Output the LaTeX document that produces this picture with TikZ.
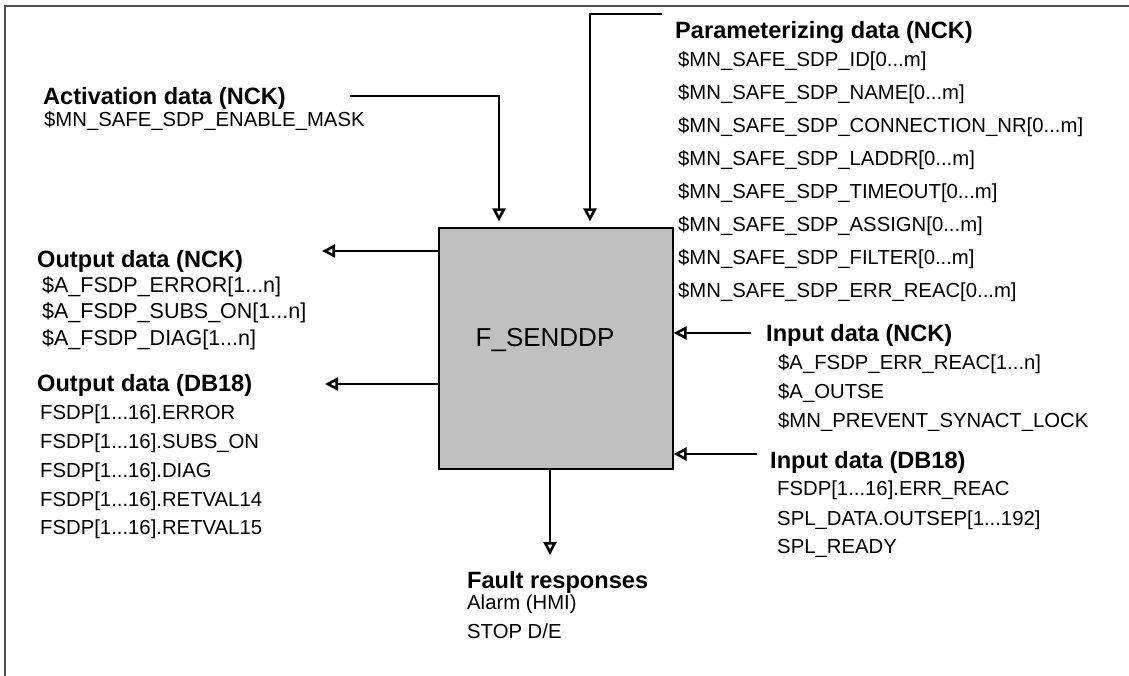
\documentclass[tikz,border=0pt]{standalone}
\usepackage{fontspec}
\setmainfont{Liberation Sans}
\usepackage{tikz}
\usetikzlibrary{arrows.meta}
\definecolor{boxgray}{RGB}{192,192,192}
\definecolor{framegray}{RGB}{80,80,80}
\tikzset{
  head/.style={anchor=base west, inner sep=0pt, font=\bfseries\fontsize{23.6}{27}\selectfont},
  item/.style={anchor=base west, inner sep=0pt, font=\fontsize{20.3}{24}\selectfont},
  flow/.style={line width=1.3pt, -{Triangle[open, length=13pt, width=13pt, line width=2.6pt]}},
}
\begin{document}
\begin{tikzpicture}[x=1pt, y=-1pt]
      \useasboundingbox (0,0) rectangle (1129,676);
      \draw[framegray, line width=2pt] (1129,6) -- (5,6) -- (5,676);
      % function block
      \node[draw, fill=boxgray, line width=1.2pt, minimum width=234pt, minimum height=241pt, inner sep=0pt] (box) at (556,348.5) {};
      \node[anchor=base, inner sep=0pt, font=\fontsize{26}{30}\selectfont] (boxname) at (545,346.7) {F\_SENDDP};
      % activation data
      \node[head] (acthead) at (43,105) {Activation data (NCK)};
      \node[item] (act1) at (44,127) {\$MN\_SAFE\_SDP\_ENABLE\_MASK};
      \coordinate (actline) at (350,96);
      \draw[flow, shorten >=6pt] (actline) -| ([xshift=-57pt]box.north);
      % parameterizing data
      \node[head] (parhead) at (675,39) {Parameterizing data (NCK)};
      \node[item] (par1) at (678,67) {\$MN\_SAFE\_SDP\_ID[0...m]};
      \node[item] (par2) at (678,100) {\$MN\_SAFE\_SDP\_NAME[0...m]};
      \node[item] (par3) at (678,133) {\$MN\_SAFE\_SDP\_CONNECTION\_NR[0...m]};
      \node[item] (par4) at (678,166) {\$MN\_SAFE\_SDP\_LADDR[0...m]};
      \node[item] (par5) at (678,199) {\$MN\_SAFE\_SDP\_TIMEOUT[0...m]};
      \node[item] (par6) at (678,232) {\$MN\_SAFE\_SDP\_ASSIGN[0...m]};
      \node[item] (par7) at (678,265) {\$MN\_SAFE\_SDP\_FILTER[0...m]};
      \node[item] (par8) at (678,298) {\$MN\_SAFE\_SDP\_ERR\_REAC[0...m]};
      \coordinate (parline) at (662,14);
      \draw[flow, shorten >=6pt] (parline) -| ([xshift=34pt]box.north);
      % output data (NCK)
      \node[head] (outnckhead) at (37,268) {Output data (NCK)};
      \node[item, font=\fontsize{21.5}{24}\selectfont] (outnck1) at (42,292) {\$A\_FSDP\_ERROR[1...n]};
      \node[item, font=\fontsize{21.5}{24}\selectfont] (outnck2) at (42,318.5) {\$A\_FSDP\_SUBS\_ON[1...n]};
      \node[item, font=\fontsize{21.5}{24}\selectfont] (outnck3) at (42,345) {\$A\_FSDP\_DIAG[1...n]};
      \coordinate (outnck) at (322,251);
      \draw[flow] (box.west |- outnck) -- (outnck);
      % output data (DB18)
      \node[head] (outdbhead) at (37,391) {Output data (DB18)};
      \node[item] (outdb1) at (40,419) {FSDP[1...16].ERROR};
      \node[item] (outdb2) at (40,448) {FSDP[1...16].SUBS\_ON};
      \node[item] (outdb3) at (40,477) {FSDP[1...16].DIAG};
      \node[item] (outdb4) at (40,506) {FSDP[1...16].RETVAL14};
      \node[item] (outdb5) at (40,534) {FSDP[1...16].RETVAL15};
      \coordinate (outdb) at (325,384);
      \draw[flow] (box.west |- outdb) -- (outdb);
      % input data (NCK)
      \node[head] (innckhead) at (766,341) {Input data (NCK)};
      \node[item] (innck1) at (778,369) {\$A\_FSDP\_ERR\_REAC[1...n]};
      \node[item] (innck2) at (778,398) {\$A\_OUTSE};
      \node[item] (innck3) at (778,427) {\$MN\_PREVENT\_SYNACT\_LOCK};
      \coordinate (innck) at (751,333);
      \draw[flow] (innck) -- (innck -| box.east);
      % input data (DB18)
      \node[head] (indbhead) at (770,468) {Input data (DB18)};
      \node[item] (indb1) at (777,495) {FSDP[1...16].ERR\_REAC};
      \node[item] (indb2) at (777,525) {SPL\_DATA.OUTSEP[1...192]};
      \node[item] (indb3) at (777,553) {SPL\_READY};
      \coordinate (indb) at (757,454);
      \draw[flow] (indb) -- (indb -| box.east);
      % fault responses
      \node[head] (faulthead) at (467,588) {Fault responses};
      \node[item] (fault1) at (467,609) {Alarm (HMI)};
      \node[item] (fault2) at (467,638) {STOP D/E};
      \coordinate (fault) at (550,555);
      \draw[flow] (box.south -| fault) -- (fault);
\end{tikzpicture}
\end{document}
